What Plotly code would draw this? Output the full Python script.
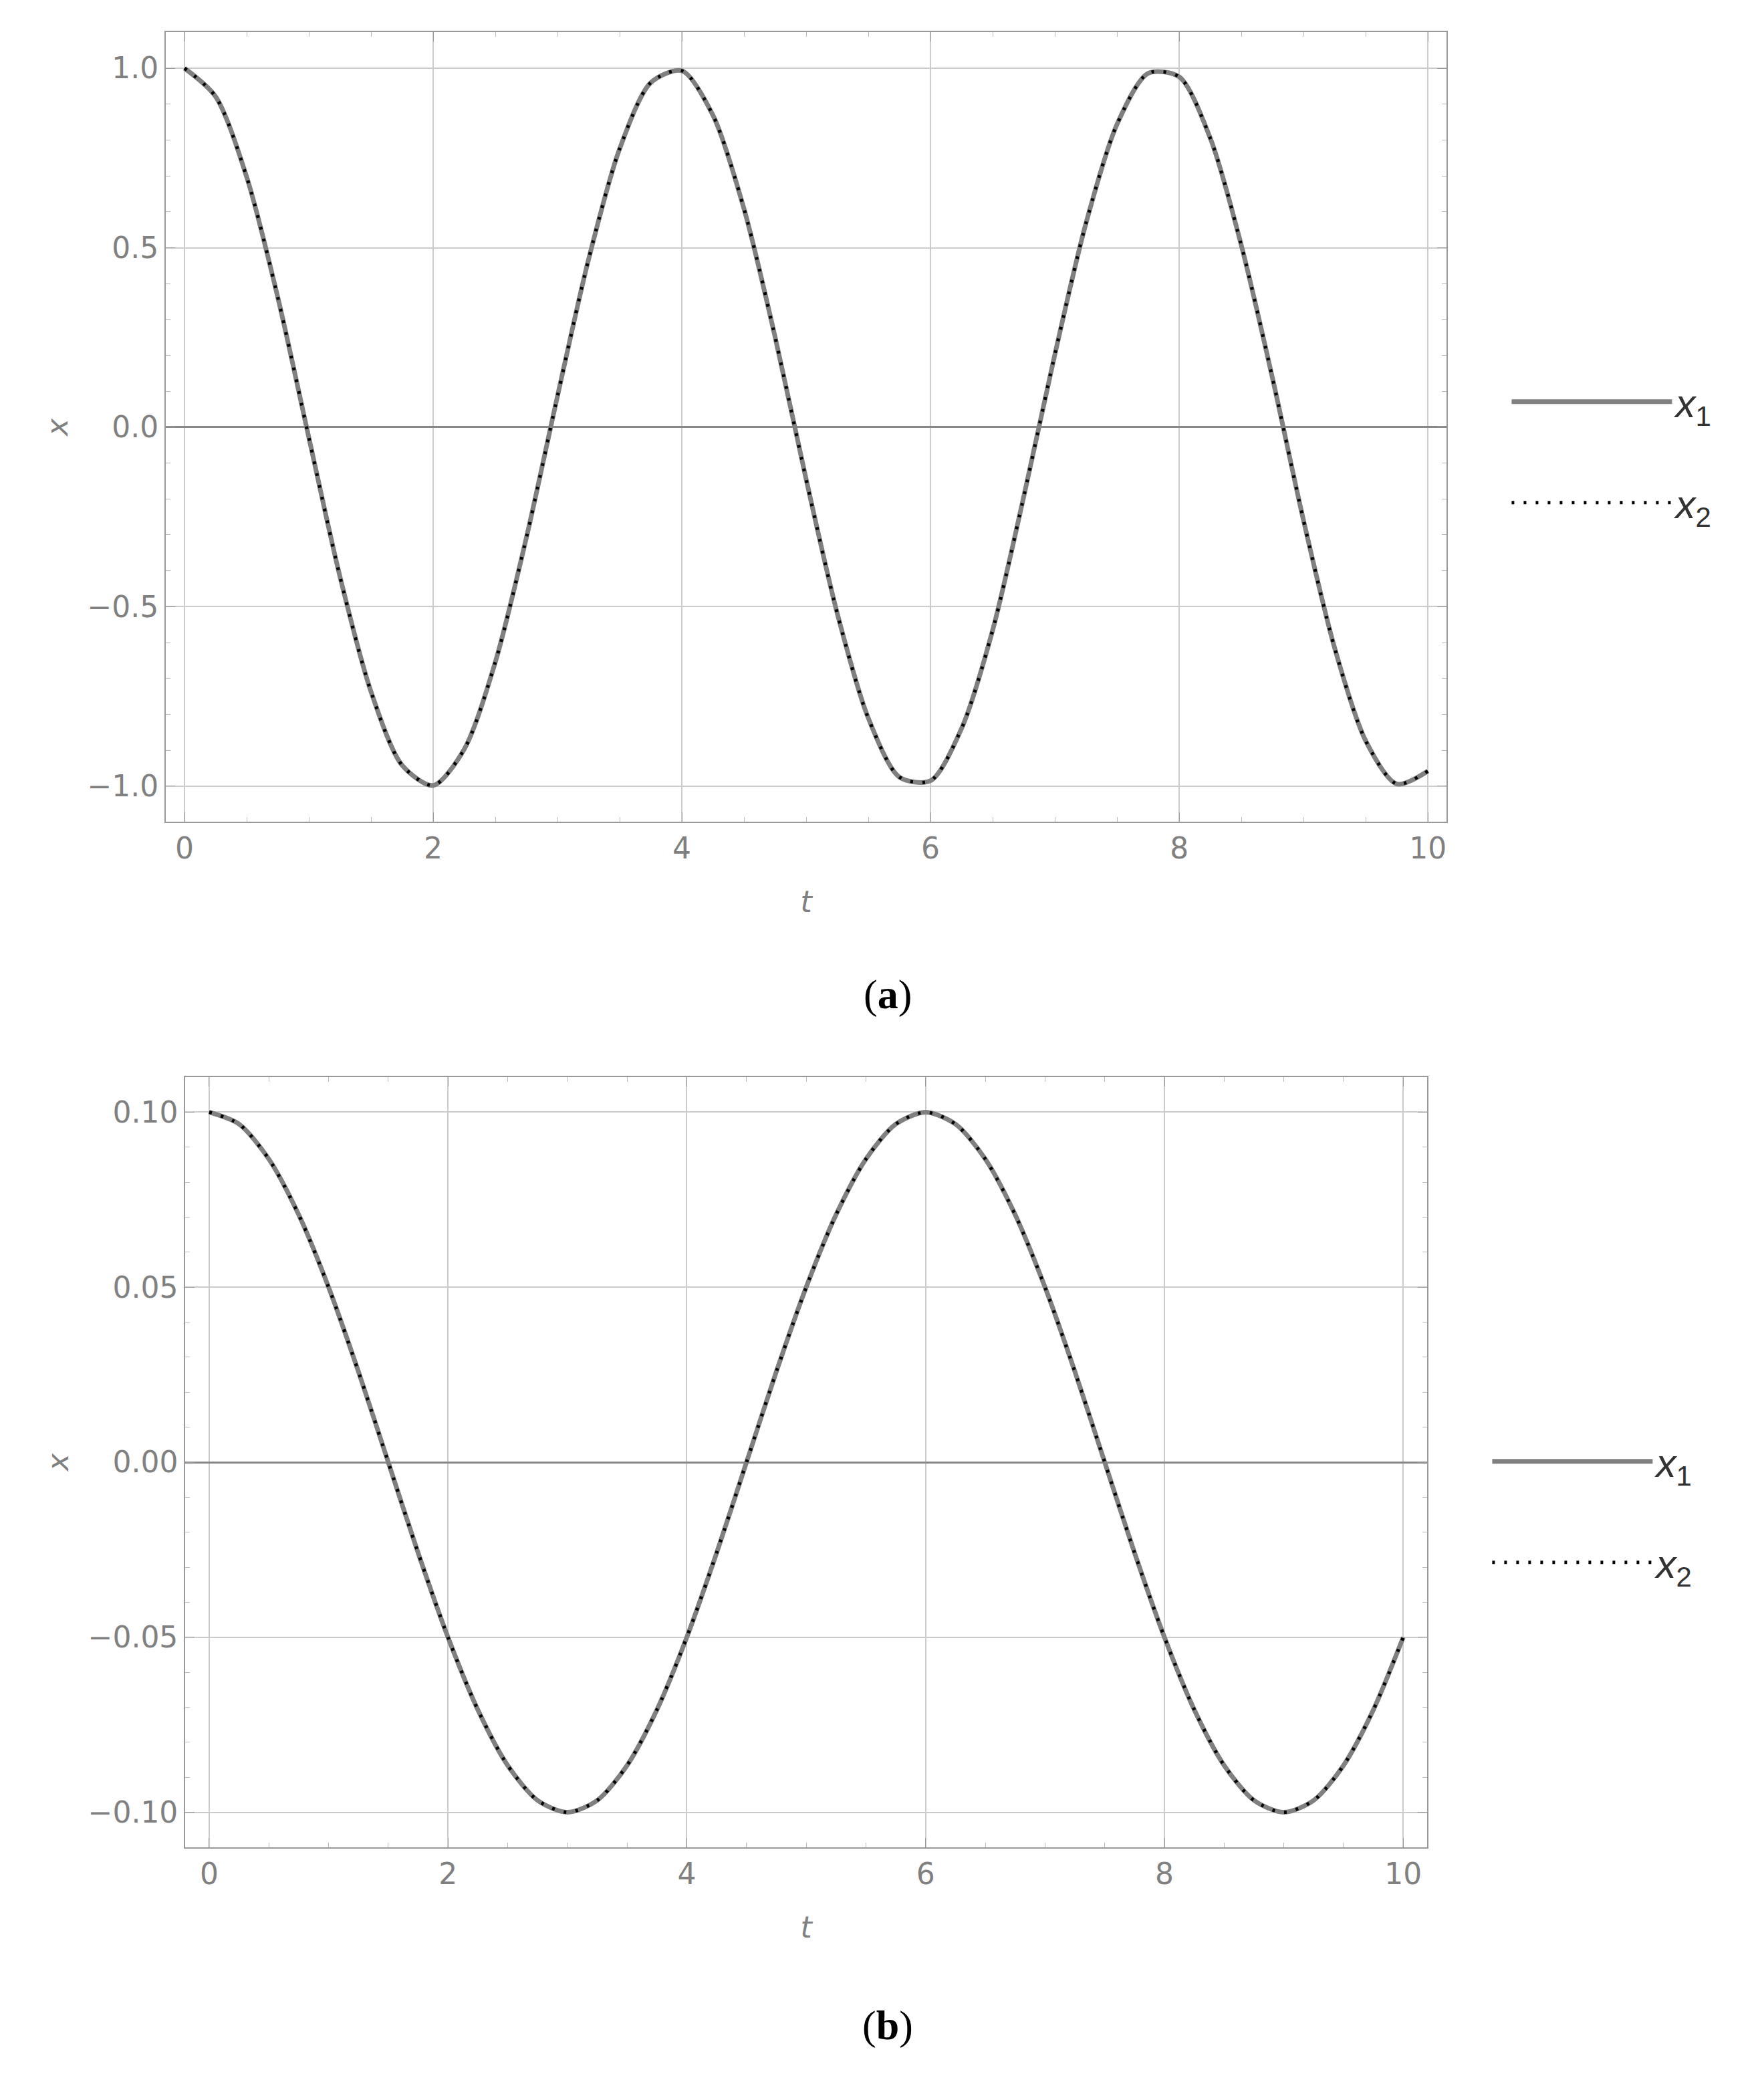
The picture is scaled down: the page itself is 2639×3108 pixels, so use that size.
import plotly.graph_objects as go

# ── values ─────────────────────────────────────────────────────────────────
t_vals = [i * 0.25 for i in range(41)]

x_a = [1.000, 0.921, 0.697, 0.362, -0.029, -0.416, -0.737, -0.942, -0.998, -0.897,
       -0.654, -0.307, 0.087, 0.468, 0.776, 0.960, 0.993, 0.869, 0.608, 0.251,
       -0.146, -0.519, -0.811, -0.975, -0.985, -0.839, -0.565, -0.193, 0.203, 0.568,
       0.844, 0.986, 0.976, 0.805, 0.506, 0.137, -0.260, -0.615, -0.874, -0.994, -0.958]

x_b = [0.1, 0.0966, 0.0866, 0.0707, 0.05, 0.0259, 0.0, -0.0259, -0.05, -0.0707,
       -0.0866, -0.0966, -0.1, -0.0966, -0.0866, -0.0707, -0.05, -0.0259, 0.0, 0.0259,
       0.05, 0.0707, 0.0866, 0.0966, 0.1, 0.0966, 0.0866, 0.0707, 0.05, 0.0259,
       0.0, -0.0259, -0.05, -0.0707, -0.0866, -0.0966, -0.1, -0.0966, -0.0866, -0.0707, -0.05]

x_ticks = [0, 2, 4, 6, 8, 10]
ya_ticks = [-1.0, -0.5, 0.0, 0.5, 1.0]
ya_labels = ["\u22121.0", "\u22120.5", "0.0", "0.5", "1.0"]
yb_ticks = [-0.10, -0.05, 0.0, 0.05, 0.10]
yb_labels = ["\u22120.10", "\u22120.05", "0.00", "0.05", "0.10"]

GRAY = "#808080"
FONT = "DejaVu Sans"

fig = go.Figure()
for xa, ya, ys, leg in [("x", "y", x_a, "legend"), ("x2", "y2", x_b, "legend2")]:
    fig.add_trace(go.Scatter(x=t_vals, y=ys, xaxis=xa, yaxis=ya, legend=leg,
                             legendgroup=leg + "1",
                             name="<i>x</i><sub>1</sub>", mode="lines",
                             line=dict(color="#808080", width=7, shape="spline", smoothing=0.8)))
    fig.add_trace(go.Scatter(x=t_vals, y=ys, xaxis=xa, yaxis=ya, legend=leg,
                             legendgroup=leg + "2",
                             name="<i>x</i><sub>2</sub>", mode="lines",
                             line=dict(color="black", width=5, dash="4px,14px",
                                       shape="spline", smoothing=0.8)))

axis_common = dict(showline=True, linecolor="#999999", linewidth=2, mirror="ticks",
                   ticks="inside", ticklen=14, tickcolor="#999999",
                   minor=dict(ticks="inside", ticklen=7, tickcolor="#bbbbbb", nticks=5),
                   showgrid=True, gridcolor="#cccccc", gridwidth=2,
                   tickfont=dict(family=FONT, size=44, color=GRAY),
                   zeroline=False)
title_font = dict(family=FONT, size=44, color=GRAY)

fig.update_layout(
    width=2639, height=3108, margin=dict(l=0, r=0, t=0, b=0),
    plot_bgcolor="white", paper_bgcolor="white",
    xaxis=dict(domain=[0.091, 0.817], anchor="y", range=[-0.15, 10.15], tickvals=x_ticks,
               title=dict(text="<i>t</i>", font=title_font, standoff=40), **axis_common),
    yaxis=dict(domain=[0.607, 0.987], anchor="x", range=[-1.1, 1.1], tickvals=ya_ticks,
               ticktext=ya_labels, title=dict(text="<i>x</i>", font=title_font), **axis_common),
    xaxis2=dict(domain=[0.102, 0.806], anchor="y2", range=[-0.2, 10.2], tickvals=x_ticks,
                title=dict(text="<i>t</i>", font=title_font, standoff=40), **axis_common),
    yaxis2=dict(domain=[0.1136, 0.4842], anchor="x2", range=[-0.11, 0.11], tickvals=yb_ticks,
                ticktext=yb_labels, title=dict(text="<i>x</i>", font=title_font), **axis_common),
    legend=dict(x=0.852, y=0.785, yanchor="middle", itemwidth=240, tracegroupgap=70,
                traceorder="grouped",
                font=dict(family="Liberation Sans", size=60, color="#333333")),
    legend2=dict(x=0.841, y=0.275, yanchor="middle", itemwidth=240, tracegroupgap=70,
                 traceorder="grouped",
                 font=dict(family="Liberation Sans", size=60, color="#333333")),
)
fig.update_yaxes(zeroline=True, zerolinecolor="#888888", zerolinewidth=3)

for txt, y in [("(<b>a</b>)", 0.524), ("(<b>b</b>)", 0.016)]:
    fig.add_annotation(text=txt, xref="paper", yref="paper", x=0.5, y=y, showarrow=False,
                       font=dict(family="Liberation Serif", size=62, color="black"))

fig.write_html("out.html")
